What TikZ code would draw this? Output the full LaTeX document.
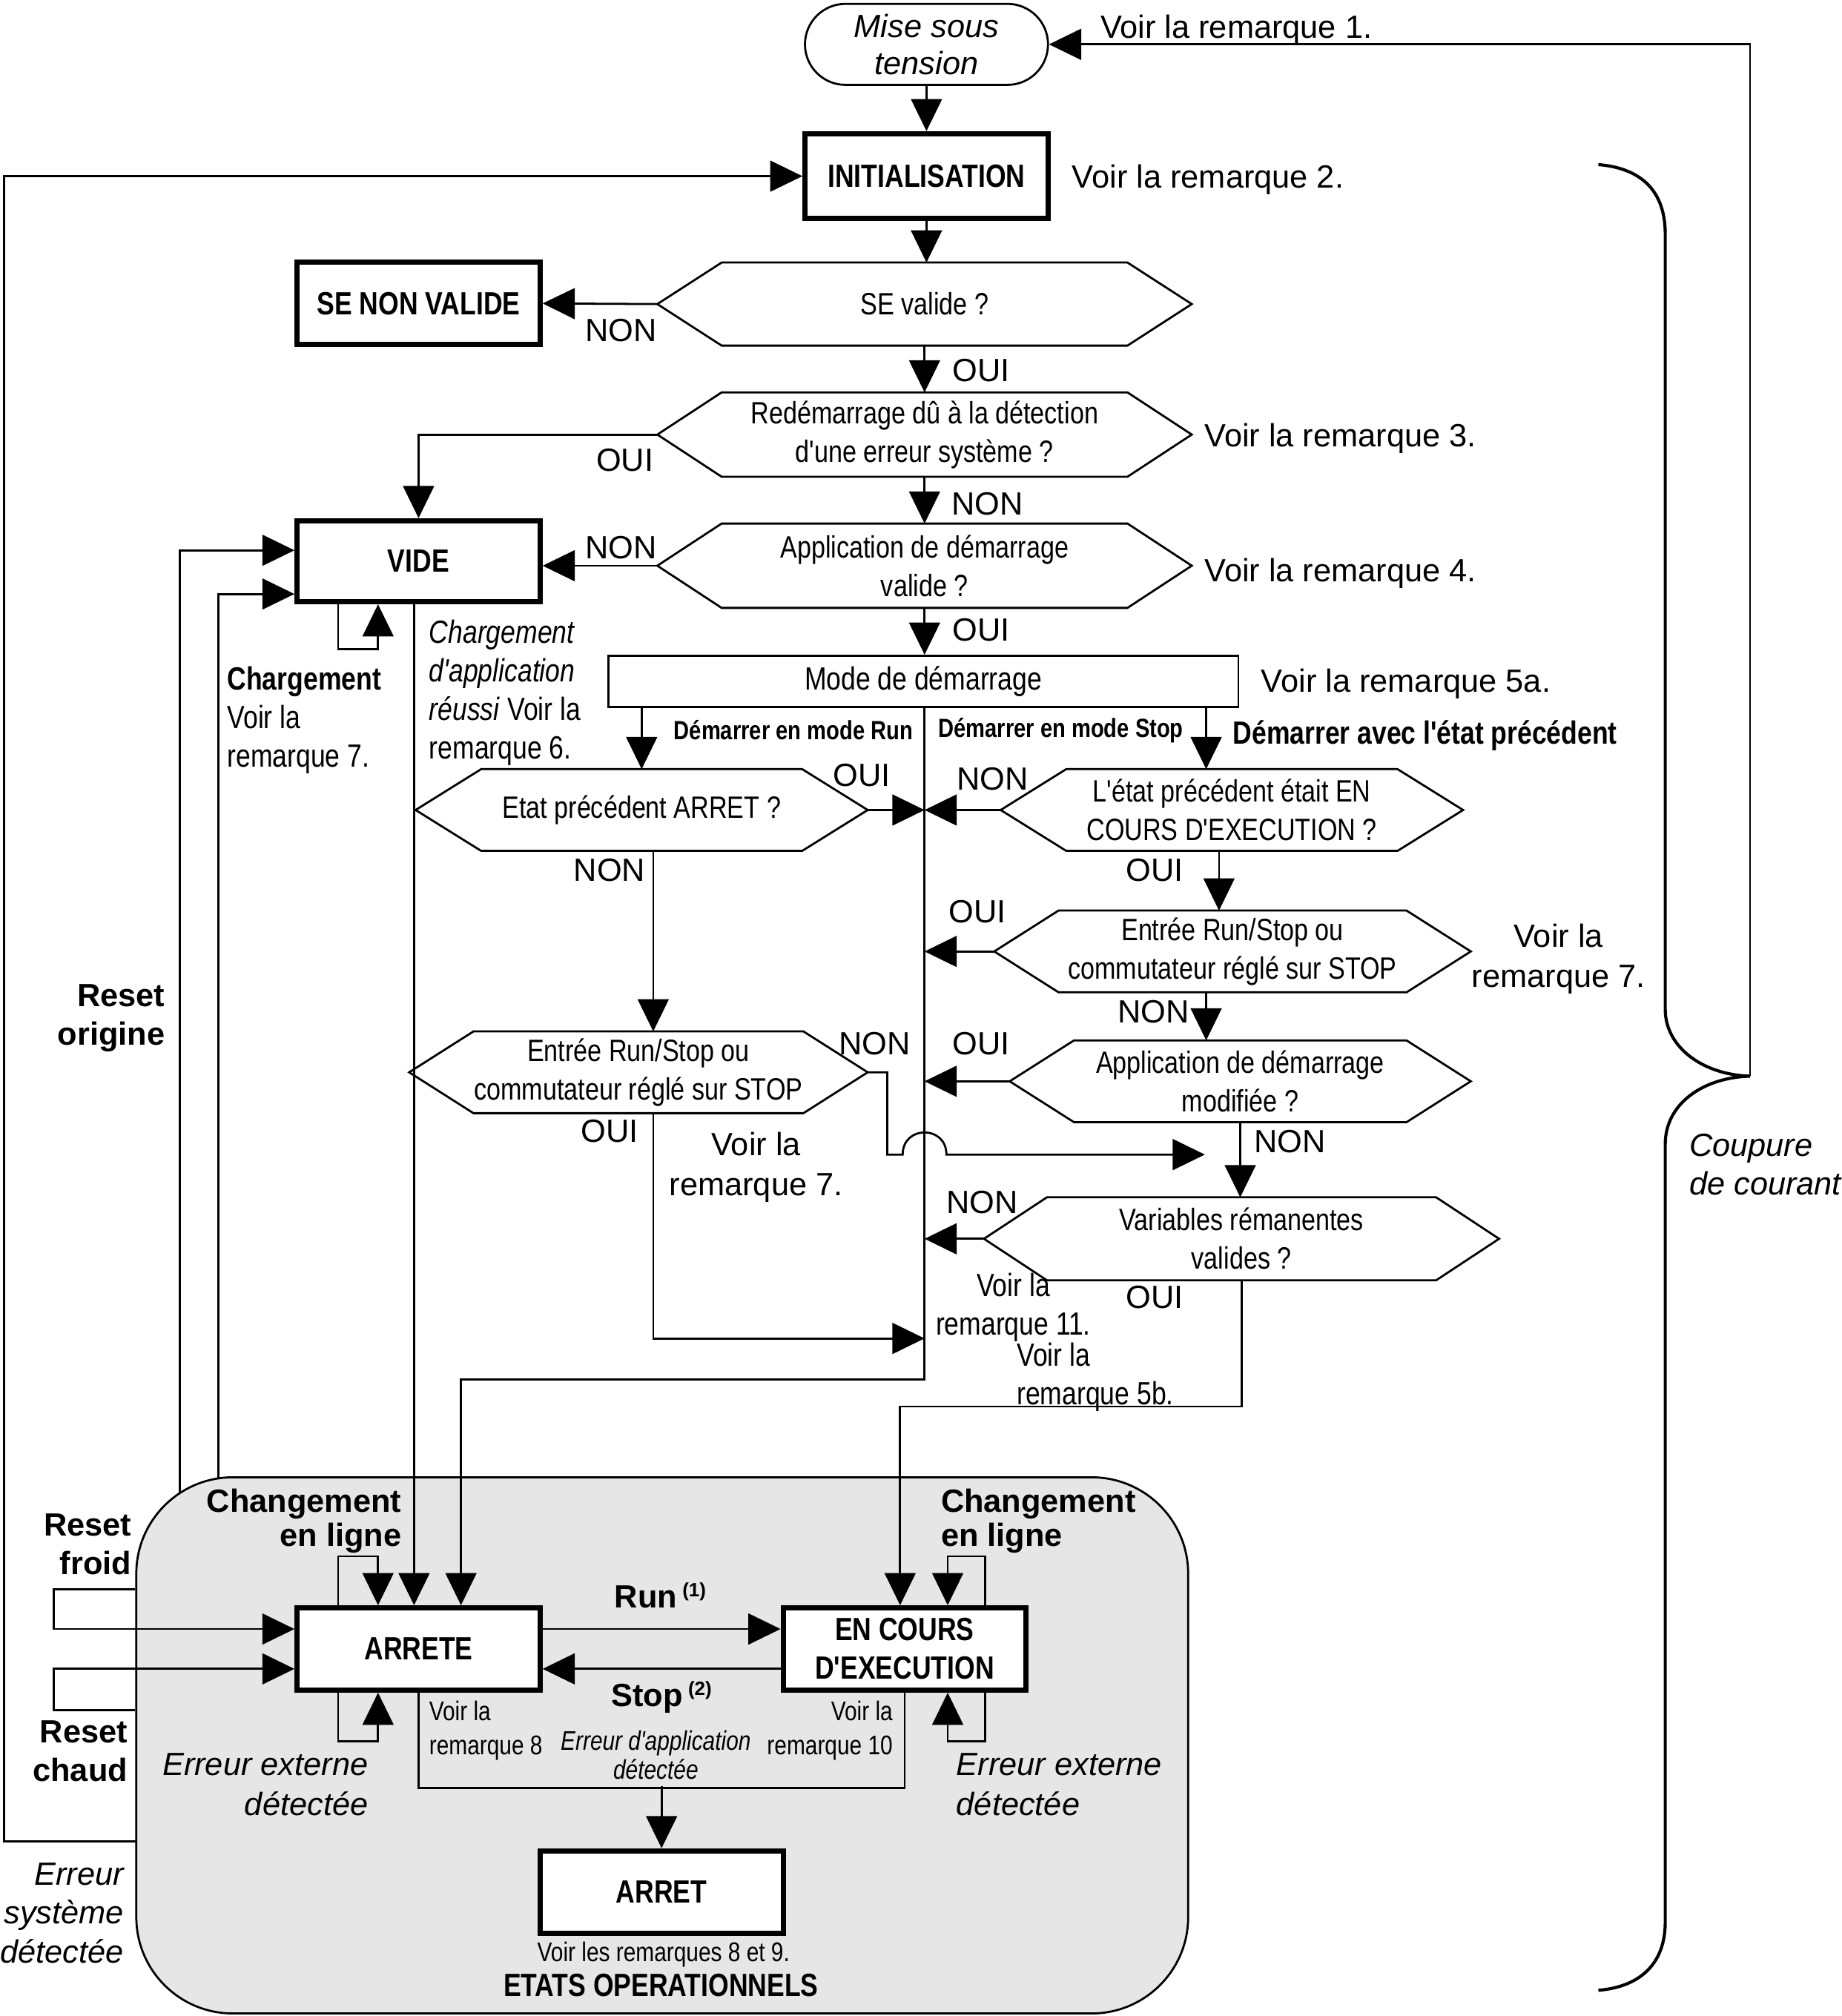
\documentclass[tikz,border=0pt]{standalone}
\usepackage{fontspec}
\setmainfont{Liberation Sans}
\newfontfamily\nar[FakeStretch=0.82]{Liberation Sans}
\usetikzlibrary{arrows.meta}
\definecolor{opsGray}{RGB}{230,230,230}

\begin{document}
\begin{tikzpicture}[%%
  x=0.5pt,y=-0.5pt,
  line width=0.8pt,
  >={Triangle[length=12.5pt,width=12pt]},
  boxStyle/.style={draw,line width=2pt,fill=white,minimum width=94.5pt,minimum height=32pt,inner sep=0pt,align=center,font=\nar\bfseries\fontsize{12.5}{15}\selectfont},%%
  hexStyle/.style={inner sep=0pt,minimum height=31.5pt,align=center,font=\nar\fontsize{12}{15}\selectfont},%%
  labelStyle/.style={inner sep=0pt,align=center,font=\fontsize{12.5}{15.5}\selectfont},%%
  narrowStyle/.style={inner sep=0pt,font=\nar\fontsize{12.5}{15}\selectfont},%%
  smallStyle/.style={inner sep=0pt,font=\nar\fontsize{10.5}{13}\selectfont},%%
  boldStyle/.style={inner sep=0pt,font=\bfseries\fontsize{12.5}{15}\selectfont}%%
]
%%
\useasboundingbox (0,0) rectangle (1432,1568);
%%
%% Start-up part.
\node[draw,rounded corners=15.75pt,minimum width=94.5pt,minimum height=31.5pt,inner sep=0pt,align=center,font=\itshape\fontsize{12.5}{14.5}\selectfont] (pwr) at (720.5,34.5) {Mise sous\\tension};
\node[boxStyle,minimum height=33pt] (init) at (720.5,137) {INITIALISATION};
\node[boxStyle] (senv) at (325.5,236) {SE NON VALIDE};
\node[boxStyle,minimum height=31.5pt] (vide) at (325.5,436.5) {VIDE};
\node[hexStyle,minimum width=207pt] (sev) at (719,236.5) {SE valide ?};
\node[hexStyle,minimum width=207pt,minimum height=32pt] (redem) at (719,338) {Redémarrage dû à la détection\\d'une erreur système ?};
\node[hexStyle,minimum width=207pt,minimum height=32pt] (appv) at (719,440) {Application de démarrage\\valide ?};
\node[draw,minimum width=245pt,minimum height=20pt,inner sep=0pt,font=\nar\fontsize{12.5}{15}\selectfont] (mode) at (718,530) {Mode de démarrage};
\node[hexStyle,minimum width=175pt,minimum height=31pt] (etat) at (499,630) {Etat précédent ARRET ?};
\node[hexStyle,minimum width=177.5pt,minimum height=31pt] (entl) at (496.5,834) {Entrée Run/Stop ou\\commutateur réglé sur STOP};
\node[hexStyle,minimum width=179pt,minimum height=31pt] (letat) at (958,630) {L'état précédent était EN\\COURS D'EXECUTION ?};
\node[hexStyle,minimum width=184.5pt,minimum height=31pt] (entr) at (958.5,740) {Entrée Run/Stop ou\\commutateur réglé sur STOP};
\node[hexStyle,minimum width=178.5pt,minimum height=31pt] (appm) at (964.5,841) {Application de démarrage\\modifiée ?};
\node[hexStyle,minimum width=199.5pt] (varr) at (965.5,963.5) {Variables rémanentes\\valides ?};
%% Hexagon outlines.
\foreach \n/\d in {sev/25pt,redem/25pt,appv/25pt,etat/25.5pt,entl/25pt,letat/25.5pt,entr/25pt,appm/25pt,varr/24.5pt}
  \draw (\n.west) -- ([xshift=\d]\n.north west) -- ([xshift=-\d]\n.north east) -- (\n.east) -- ([xshift=-\d]\n.south east) -- ([xshift=\d]\n.south west) -- cycle;
%%
\coordinate (busT) at (719,550);
\coordinate (busB) at (719,1073);
\coordinate (jmp) at (937,898);
\coordinate (origA) at (140,1250);
\coordinate (origB) at (170,1250);
\coordinate (sysErr) at (150,1432);
\coordinate (cutTip) at (1361,837);
%%
%% Lines that start under the operating states.
\draw[->] (origA) |- ([yshift=4.25pt]vide.west);
\draw[->] (origB) |- ([yshift=-12.75pt]vide.west);
\draw[->] (sysErr) -- (3,1432) |- (init.west);
%%
%% Operating states.
\node[draw,fill=opsGray,rounded corners=37.5pt,minimum width=409pt,minimum height=208.5pt,inner sep=0pt] (ops) at (515,1357.5) {};
\node[boxStyle] (arrete) at (325.5,1282.5) {ARRETE};
\node[boxStyle] (encours) at (703.5,1282.5) {EN COURS\\D'EXECUTION};
\node[boxStyle] (arret) at (514.5,1471.5) {ARRET};
%%
%% Main flow.
\draw[->] (pwr) -- (init);
\draw[->] (init) -- (init |- sev.north);
\draw[->] (sev.west) -- (senv.east);
\draw[->] (sev.south) -- (redem.north);
\draw[->] (redem.west) -| (vide.north);
\draw[->] (redem.south) -- (appv.north);
\draw[->] (appv.west) -- (vide.east |- appv.west);
\draw[->] (appv.south) -- (appv.south |- mode.north);
\draw[->] (mode.south -| etat.north) -- (etat.north);
\draw[->] ([xshift=-10pt]letat.north |- mode.south) -- ([xshift=-10pt]letat.north);
\draw[->] (busT) -- (busB) -| ([xshift=16.5pt]arrete.north);
\draw[->] (etat.east) -- (etat.east -| busT);
\draw[->] ([xshift=4.5pt]etat.south) -- ([xshift=4.5pt]etat.south |- entl.north);
\draw[->] ([xshift=5.75pt]entl.south) |- (busT |- 0,1041);
\draw[->] (entl.east) -- (690,834) -- (690,898) -- (702,898) .. controls (702,875) and (736,875) .. (736,898) -- (jmp);
\draw[->] (letat.west) -- (letat.west -| busT);
\draw[->] ([xshift=-5pt]letat.south) -- ([xshift=-5pt]letat.south |- entr.north);
\draw[->] (entr.west) -- (entr.west -| busT);
\draw[->] ([xshift=-10.25pt]entr.south) -- ([xshift=-10.25pt]entr.south |- appm.north);
\draw[->] (appm.west) -- (appm.west -| busT);
\draw[->] (appm.south) -- (appm.south |- varr.north);
\draw[->] (varr.west) -- (varr.west -| busT);
\draw[->] (varr.south) |- (965,1094) -| ([xshift=-1.75pt]encours.north);
%% Loops on the states.
\draw[->] ([xshift=-31.25pt]vide.south) -- ++(0,35) -| ([xshift=-15.75pt]vide.south);
\draw[->] ([xshift=-1.75pt]vide.south) -- ([xshift=-1.75pt]arrete.north);
\draw[->] ([xshift=-31.25pt]arrete.north) -- ++(0,-38) -| ([xshift=-15.75pt]arrete.north);
\draw[->] ([xshift=-31.25pt]arrete.south) -- ++(0,38) -| ([xshift=-15.75pt]arrete.south);
\draw[->] ([xshift=31.25pt]encours.north) -- ++(0,-38) -| ([xshift=16.75pt]encours.north);
\draw[->] ([xshift=31.25pt]encours.south) -- ++(0,38) -| ([xshift=16.75pt]encours.south);
\draw[->] ([yshift=7.75pt]arrete.east) -- ([yshift=7.75pt]encours.west);
\draw[->] ([yshift=-7.75pt]encours.west) -- ([yshift=-7.75pt]arrete.east);
\draw[->] (ops.west |- 0,1236) -- (42,1236) -- (42,1267) -- ([yshift=7.75pt]arrete.west);
\draw[->] (ops.west |- 0,1330) -- (42,1330) -- (42,1298) -- ([yshift=-7.75pt]arrete.west);
\draw (arrete.south) -- ++(0,74) -| (encours.south);
\draw[->] (arret.north |- 0,1389) -- (arret.north);
%% Power cut.
\draw[->] (cutTip) |- (pwr.east);
\draw[line width=1.2pt] (1243,128) .. controls (1278,131) and (1295,150) .. (1295,182) -- (1295,785) .. controls (1295,815) and (1325,836) .. (cutTip) .. controls (1325,838) and (1295,858) .. (1295,890) -- (1295,1495) .. controls (1295,1525) and (1278,1545) .. (1243,1548);
%%
%% Remarks.
\node[labelStyle,anchor=west] (rem1) at (855,23) {Voir la remarque 1.};
\node[labelStyle,anchor=west] (rem2) at (833,140) {Voir la remarque 2.};
\node[labelStyle,anchor=west] (rem3) at (936,341) {Voir la remarque 3.};
\node[labelStyle,anchor=west] (rem4) at (936,446) {Voir la remarque 4.};
\node[labelStyle,anchor=west] (rem5a) at (980,532) {Voir la remarque 5a.};
\node[labelStyle] (rem7a) at (1212,746) {Voir la\\remarque 7.};
\node[labelStyle] (rem7b) at (588,908) {Voir la\\remarque 7.};
\node[narrowStyle,align=center] (rem11) at (788,1017) {Voir la\\remarque 11.};
\node[narrowStyle,align=left,anchor=west] (rem5b) at (790,1071) {Voir la\\remarque 5b.};
\node[narrowStyle,align=left,anchor=west] (rem6) at (333,539) {\textit{Chargement}\\\textit{d'application}\\\textit{réussi} Voir la\\remarque 6.};
\node[narrowStyle,align=left,anchor=west] (load) at (176,560) {\textbf{Chargement}\\Voir la\\remarque 7.};
%% Branch labels.
\node[labelStyle] (non1) at (483,257) {NON};
\node[labelStyle] (oui1) at (763,288) {OUI};
\node[labelStyle] (oui2) at (486,358) {OUI};
\node[labelStyle] (non2) at (768,392) {NON};
\node[labelStyle] (non3) at (483,426) {NON};
\node[labelStyle] (oui3) at (763,490) {OUI};
\node[labelStyle] (oui4) at (670,603) {OUI};
\node[labelStyle] (non4) at (772,606) {NON};
\node[labelStyle] (non5) at (474,677) {NON};
\node[labelStyle] (oui5) at (898,677) {OUI};
\node[labelStyle] (oui6) at (760,709) {OUI};
\node[labelStyle] (non6) at (897,787) {NON};
\node[labelStyle] (non7) at (680,812) {NON};
\node[labelStyle] (oui7) at (763,812) {OUI};
\node[labelStyle] (oui8) at (474,880) {OUI};
\node[labelStyle] (non8) at (1003,888) {NON};
\node[labelStyle] (non9) at (764,935) {NON};
\node[labelStyle] (oui9) at (898,1009) {OUI};
\node[inner sep=0pt,font=\nar\bfseries\fontsize{10.25}{12}\selectfont] (dRun) at (617,568) {Démarrer en mode Run};
\node[inner sep=0pt,font=\nar\bfseries\fontsize{10.25}{12}\selectfont] (dStop) at (825,568) {Démarrer en mode Stop};
\node[inner sep=0pt,anchor=west,font=\nar\bfseries\fontsize{12.5}{15}\selectfont] (dPrev) at (958,572) {Démarrer avec l'état précédent};
\node[boldStyle,align=right,anchor=east] (rOrig) at (129,792) {Reset\\origine};
\node[labelStyle,align=left,anchor=west,font=\itshape\fontsize{12.5}{15}\selectfont] (cut) at (1313,906) {Coupure\\de courant};
%% Labels in the operating states.
\node[boldStyle,align=right,anchor=east,font=\bfseries\fontsize{12.5}{13.5}\selectfont] (chgL) at (313,1183) {Changement\\en ligne};
\node[boldStyle,align=left,anchor=west,font=\bfseries\fontsize{12.5}{13.5}\selectfont] (chgR) at (731,1183) {Changement\\en ligne};
\node[boldStyle,align=right,anchor=east] (rFroid) at (103,1201) {Reset\\froid};
\node[boldStyle,align=right,anchor=east] (rChaud) at (100,1362) {Reset\\chaud};
\node[boldStyle] (run) at (514,1241) {Run\,\textsuperscript{\fontsize{7.5}{8}\selectfont(1)}};
\node[boldStyle] (stop) at (515,1320) {Stop\,\textsuperscript{\fontsize{7.5}{8}\selectfont(2)}};
\node[smallStyle,align=left,anchor=west] (rem8) at (333,1346) {Voir la\\remarque 8};
\node[smallStyle,align=right,anchor=east] (rem10) at (695,1346) {Voir la\\remarque 10};
\node[inner sep=0pt,align=center,font=\nar\itshape\fontsize{10.5}{11}\selectfont] (eApp) at (510,1365) {Erreur d'application\\détectée};
\node[labelStyle,align=right,anchor=east,font=\itshape\fontsize{12.5}{15.5}\selectfont] (eExtL) at (287,1388) {Erreur externe\\détectée};
\node[labelStyle,align=left,anchor=west,font=\itshape\fontsize{12.5}{15.5}\selectfont] (eExtR) at (743,1388) {Erreur externe\\détectée};
\node[labelStyle,align=right,anchor=east,font=\itshape\fontsize{12.5}{15}\selectfont] (eSys) at (97,1488) {Erreur\\système\\détectée};
\node[smallStyle] (rem89) at (516,1520) {Voir les remarques 8 et 9.};
\node[narrowStyle,font=\nar\bfseries\fontsize{12.5}{15}\selectfont] (opsTitle) at (514,1544) {ETATS OPERATIONNELS};
\end{tikzpicture}
\end{document}
